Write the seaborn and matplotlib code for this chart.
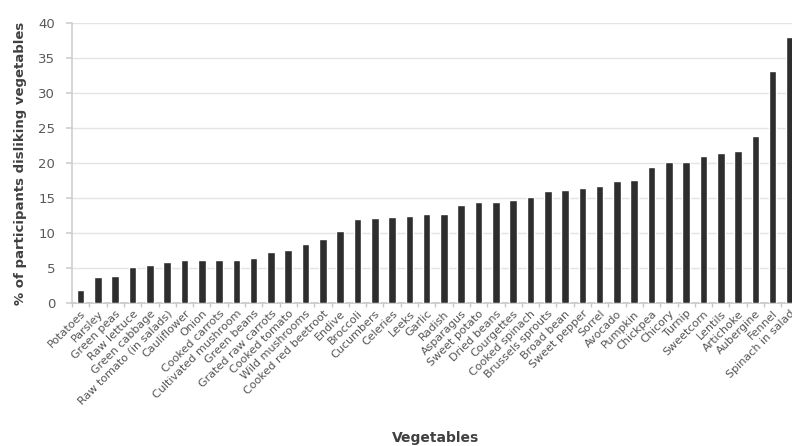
import matplotlib
matplotlib.use("Agg")
import matplotlib.pyplot as plt
import seaborn as sns
import pandas as pd
from matplotlib.ticker import FixedLocator

vegetables = [
    "Potatoes", "Parsley", "Green peas", "Raw lettuce", "Green cabbage",
    "Raw tomato (in salads)", "Cauliflower", "Onion", "Cooked carrots",
    "Cultivated mushroom", "Green beans", "Grated raw carrots", "Cooked tomato",
    "Wild mushrooms", "Cooked red beetroot", "Endive", "Broccoli", "Cucumbers",
    "Celeries", "Leeks", "Garlic", "Radish", "Asparagus", "Sweet potato",
    "Dried beans", "Courgettes", "Cooked spinach", "Brussels sprouts",
    "Broad bean", "Sweet pepper", "Sorrel", "Avocado", "Pumpkin", "Chickpea",
    "Chicory", "Turnip", "Sweetcorn", "Lentils", "Artichoke", "Aubergine",
    "Fennel", "Spinach in salad",
]
percent_disliking = [
    1.9, 3.7, 3.9, 5.2, 5.4, 5.9, 6.2, 6.2, 6.2, 6.2, 6.5, 7.3, 7.6, 8.4,
    9.2, 10.3, 12.0, 12.1, 12.3, 12.4, 12.7, 12.7, 14.0, 14.4, 14.4, 14.7,
    15.2, 16.0, 16.1, 16.4, 16.7, 17.4, 17.6, 19.4, 20.1, 20.1, 21.0, 21.5,
    21.7, 23.9, 33.2, 38.0,
]
y_ticks = [0, 5, 10, 15, 20, 25, 30, 35, 40]

df = pd.DataFrame({"Vegetables": vegetables, "Percent": percent_disliking})

sns.set_theme(style="white")
plt.rcParams["font.family"] = ["DejaVu Sans"]

W, H = 792, 446
fig = plt.figure(figsize=(W / 100, H / 100), dpi=100)
left_px, right_px, top_px, bottom_px = 72, 798.6, 23, 303
ax = fig.add_axes([left_px / W, (H - bottom_px) / H,
                   (right_px - left_px) / W, (bottom_px - top_px) / H])

sns.barplot(data=df, x="Vegetables", y="Percent", color="#2e2e2e",
            width=0.44, saturation=1, ax=ax, zorder=3)

n = len(vegetables)
ax.set_xlim(-0.5, n - 0.5)
ax.set_ylim(0, 40)
ax.set_yticks(y_ticks)
ax.set_yticklabels([str(t) for t in y_ticks], fontsize=9.5, color="#595959")
ax.yaxis.grid(True, color="#e4e4e4", linewidth=1, zorder=0)
ax.xaxis.grid(False)

for s in ["top", "right"]:
    ax.spines[s].set_visible(False)
ax.spines["left"].set_color("#d0d0d0")
ax.spines["bottom"].set_color("#c8c8c8")
ax.tick_params(axis="y", which="both", left=True, length=4, color="#d0d0d0", pad=8)

ax.set_xticks(range(n))
ax.set_xticklabels(vegetables, rotation=45, ha="right", rotation_mode="anchor",
                   fontsize=8, color="#555555")
ax.xaxis.set_minor_locator(FixedLocator([i - 0.5 for i in range(n + 1)]))
ax.tick_params(axis="x", which="major", bottom=True, length=0, pad=4)
ax.tick_params(axis="x", which="minor", bottom=True, length=3, color="#c8c8c8")

ax.set_xlabel("")
ax.set_ylabel("% of participants disliking vegetables", fontsize=9.5,
              fontweight="bold", color="#404040")
ax.yaxis.set_label_coords(-0.062, 0.5)

fig.text(436 / W, 1 - 438 / H, "Vegetables", ha="center", va="center",
         fontsize=10, fontweight="bold", color="#404040")

fig.savefig("out.png", dpi=100)
